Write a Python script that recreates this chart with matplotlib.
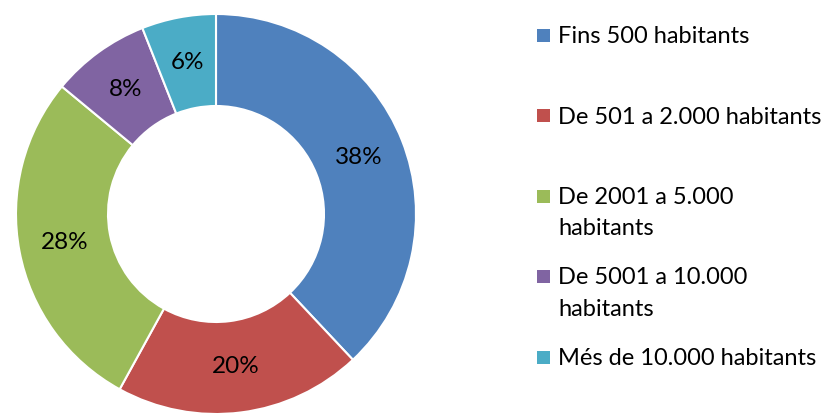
import matplotlib.pyplot as plt
from matplotlib.patches import Rectangle

# dades
labels = ['Fins 500 habitants', 'De 501 a 2.000 habitants',
          'De 2001 a 5.000\nhabitants', 'De 5001 a 10.000\nhabitants',
          'Més de 10.000 habitants']
values = [38, 20, 28, 8, 6]
colors = ['#4F81BD', '#C0504D', '#9BBB59', '#8064A2', '#4BACC6']

plt.rcParams['font.family'] = ['Lato', 'DejaVu Sans']

W, H = 828, 413
fig = plt.figure(figsize=(W / 100, H / 100), dpi=100)

# donut: centre (216, 214) px, radi 200 px
ax = fig.add_axes([(216 - 202) / W, (H - 214 - 202) / H, 404 / W, 404 / H])
wedges, texts, autotexts = ax.pie(values, colors=colors, startangle=90, counterclock=False,
                                  radius=1.0, autopct='%d%%', pctdistance=0.77,
                                  wedgeprops=dict(width=0.46, edgecolor='white', linewidth=1.5),
                                  textprops=dict(fontsize=17.5, color='black'))
ax.set_xlim(-1.01, 1.01)
ax.set_ylim(-1.01, 1.01)
ax.set_aspect('equal')
ax.axis('off')

# llegenda feta a mà
for i, (lab, c) in enumerate(zip(labels, colors)):
    yc = 35 + 80.5 * i  # centre de la primera línia, px des de dalt
    fig.patches.append(Rectangle((537 / W, (H - yc - 6.5) / H), 13 / W, 13 / H,
                                 transform=fig.transFigure, facecolor=c, edgecolor='none'))
    for j, line in enumerate(lab.split('\n')):
        fig.text(558 / W, (H - yc - 8 - 31 * j) / H, line, fontsize=17,
                 va='baseline', ha='left', color='black')

fig.savefig('out.png', dpi=100)
